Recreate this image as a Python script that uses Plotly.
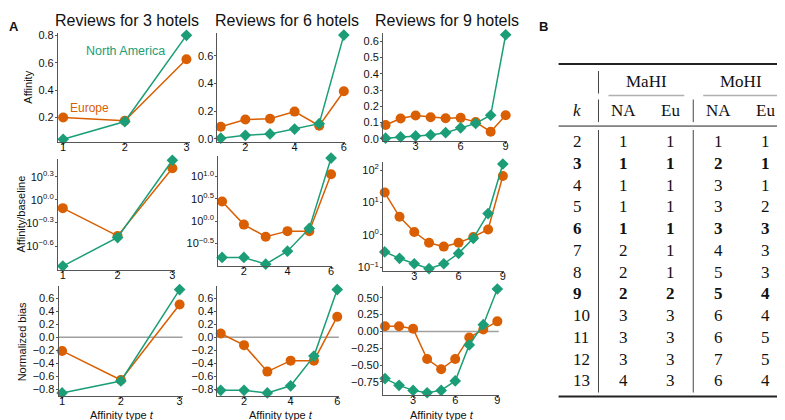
import numpy as np
import plotly.graph_objects as go

W, H = 785, 420
GREEN = '#1b9e77'
ORANGE = '#d95f02'
FONT = 'Liberation Sans'
SERIF = 'Liberation Serif'
AXC = '#555555'

# ---------------- data ----------------
t3 = [1, 2, 3]
t6 = [1, 2, 3, 4, 5, 6]
t9 = [1, 2, 3, 4, 5, 6, 7, 8, 9]

aff3_na = [0.04, 0.17, 0.80]
aff3_eu = [0.20, 0.176, 0.625]
aff6_na = [0.005, 0.026, 0.036, 0.071, 0.11, 0.75]
aff6_eu = [0.088, 0.14, 0.145, 0.197, 0.095, 0.344]
aff9_na = [0.004, 0.012, 0.018, 0.024, 0.038, 0.068, 0.095, 0.145, 0.64]
aff9_eu = [0.085, 0.125, 0.143, 0.133, 0.127, 0.129, 0.103, 0.044, 0.145]

rat3_na = [0.138, 0.324, 3.27]
rat3_eu = [0.78, 0.34, 2.57]
rat6_na = [0.155, 0.155, 0.11, 0.214, 0.69, 25.7]
rat6_eu = [2.75, 0.84, 0.45, 0.60, 0.60, 11.2]
rat9_na = [0.30, 0.19, 0.129, 0.091, 0.129, 0.27, 0.79, 4.57, 155.0]
rat9_eu = [20.4, 3.63, 1.23, 0.575, 0.437, 0.575, 0.87, 1.48, 66.0]

bias3_na = [-0.86, -0.675, 0.74]
bias3_eu = [-0.21, -0.66, 0.51]
bias6_na = [-0.82, -0.82, -0.86, -0.75, -0.29, 0.74]
bias6_eu = [0.06, -0.12, -0.53, -0.36, -0.36, 0.32]
bias9_na = [-0.70, -0.80, -0.875, -0.91, -0.875, -0.735, -0.20, 0.10, 0.63]
bias9_eu = [0.078, 0.078, 0.04, -0.41, -0.56, -0.41, -0.09, 0.03, 0.15]

baseline_ratio = 1.0
baseline_bias = 0.0

col_titles = ['Reviews for 3 hotels', 'Reviews for 6 hotels', 'Reviews for 9 hotels']
row_titles = ['Affinity', 'Affinity/baseline', 'Normalized bias']
x_title = 'Affinity type <i>t</i>'

xtick_vals = [[1, 2, 3], [2, 4, 6], [3, 6, 9]]

ytick_r1 = [[0.2, 0.4, 0.6, 0.8], [0.0, 0.2, 0.4, 0.6], [0.0, 0.1, 0.2, 0.3, 0.4, 0.5, 0.6]]
ytick_r2_exp = [[-0.6, -0.3, 0.0, 0.3], [-0.5, 0.0, 0.5, 1.0], [-1, 0, 1, 2]]
ytick_r2_txt = [['10<sup>−0.6</sup>', '10<sup>−0.3</sup>', '10<sup>0.0</sup>', '10<sup>0.3</sup>'],
                ['10<sup>−0.5</sup>', '10<sup>0.0</sup>', '10<sup>0.5</sup>', '10<sup>1.0</sup>'],
                ['10<sup>−1</sup>', '10<sup>0</sup>', '10<sup>1</sup>', '10<sup>2</sup>']]
ytick_r3 = [[-0.8, -0.6, -0.4, -0.2, 0.0, 0.2, 0.4, 0.6],
            [-0.8, -0.6, -0.4, -0.2, 0.0, 0.2, 0.4, 0.6],
            [-0.75, -0.5, -0.25, 0.0, 0.25, 0.5]]

# table
k_vals = [2, 3, 4, 5, 6, 7, 8, 9, 10, 11, 12, 13]
mahi_na = [1, 1, 1, 1, 1, 2, 2, 2, 3, 3, 3, 4]
mahi_eu = [1, 1, 1, 1, 1, 1, 1, 2, 3, 3, 3, 3]
mohi_na = [1, 2, 3, 3, 3, 4, 5, 5, 6, 6, 7, 6]
mohi_eu = [1, 1, 1, 2, 3, 3, 3, 4, 4, 5, 5, 4]
bold_k = [3, 6, 9]

# ---------------- layout geometry (pixels) ----------------
geom = {
    (0, 0): ([50, 182], [22, 133], [0.914, 3.05], [0.022, 0.82]),
    (0, 1): ([210, 338.3], [22, 133], [0.866, 6.065], [-0.021, 0.768]),
    (0, 2): ([376, 500], [22, 132], [0.83, 9.07], [-0.012, 0.653]),
    (1, 0): ([50, 167], [150, 263.3], [0.91, 3.04], [-0.91, 0.537]),
    (1, 1): ([210.7, 325], [147.3, 259.3], [0.82, 6.05], [-1.0, 1.46]),
    (1, 2): ([376, 497], [153.3, 264], [0.885, 9.06], [-1.1, 2.26]),
    (2, 0): ([50.7, 175], [280, 391.7], [0.94, 3.05], [-0.91, 0.79]),
    (2, 1): ([210, 331.7], [280, 391.7], [0.86, 6.07], [-0.91, 0.79]),
    (2, 2): ([376, 492], [280, 390], [0.86, 9.1], [-0.936, 0.67]),
}

def fx(px):
    return px / W

def fy(px):
    return 1 - px / H

series = {
    (0, 0): (t3, aff3_na, aff3_eu), (0, 1): (t6, aff6_na, aff6_eu), (0, 2): (t9, aff9_na, aff9_eu),
    (1, 0): (t3, rat3_na, rat3_eu), (1, 1): (t6, rat6_na, rat6_eu), (1, 2): (t9, rat9_na, rat9_eu),
    (2, 0): (t3, bias3_na, bias3_eu), (2, 1): (t6, bias6_na, bias6_eu), (2, 2): (t9, bias9_na, bias9_eu),
}

fig = go.Figure()
layout = dict(width=W, height=H, margin=dict(l=0, r=0, t=0, b=0),
              paper_bgcolor='white', plot_bgcolor='white', showlegend=False,
              font=dict(family=FONT, size=11, color='#111'))
shapes = []
annotations = []

for r in range(3):
    for c in range(3):
        i = r * 3 + c + 1
        xd, yd, xr, yr = geom[(r, c)]
        xa = 'xaxis' if i == 1 else f'xaxis{i}'
        ya = 'yaxis' if i == 1 else f'yaxis{i}'
        xref = 'x' if i == 1 else f'x{i}'
        yref = 'y' if i == 1 else f'y{i}'
        common = dict(showgrid=False, zeroline=False, showline=True, linecolor=AXC, linewidth=1,
                      ticks='outside', ticklen=2, tickcolor=AXC, tickfont=dict(size=11, color='#111'))
        layout[xa] = dict(domain=[fx(xd[0]), fx(xd[1])], range=xr, anchor=yref,
                          tickvals=xtick_vals[c], ticklabelstandoff=-7, **common)
        ystand = -1
        if r == 1:
            layout[ya] = dict(domain=[fy(yd[1]), fy(yd[0])], type='log', range=yr, anchor=xref,
                              tickvals=[10 ** e for e in ytick_r2_exp[c]], ticktext=ytick_r2_txt[c],
                              ticklabelstandoff=ystand, **common)
            base = np.log10(baseline_ratio)
        elif r == 0:
            layout[ya] = dict(domain=[fy(yd[1]), fy(yd[0])], range=yr, anchor=xref,
                              tickvals=ytick_r1[c], tickformat='.1f', ticklabelstandoff=ystand, **common)
            base = None
        else:
            fmt = '.2f' if c == 2 else '.1f'
            layout[ya] = dict(domain=[fy(yd[1]), fy(yd[0])], range=yr, anchor=xref,
                              tickvals=ytick_r3[c], tickformat=fmt, ticklabelstandoff=ystand, **common)
            base = baseline_bias
        if base is not None:
            shapes.append(dict(type='line', xref=f'{xref} domain', yref=yref, x0=0, x1=1,
                               y0=base, y1=base, line=dict(color='#a0a0a0', width=1.5), layer='below'))
        t, na, eu = series[(r, c)]
        fig.add_trace(go.Scatter(x=t, y=eu, mode='lines+markers', xaxis=xref, yaxis=yref, cliponaxis=False,
                                 line=dict(color=ORANGE, width=1.5),
                                 marker=dict(symbol='circle', size=10, color=ORANGE)))
        fig.add_trace(go.Scatter(x=t, y=na, mode='lines+markers', xaxis=xref, yaxis=yref, cliponaxis=False,
                                 line=dict(color=GREEN, width=1.5),
                                 marker=dict(symbol='diamond', size=9, color=GREEN)))

def ann(text, x, y, size=11, color='#111', angle=0, family=FONT, anchor='center'):
    annotations.append(dict(text=text, x=fx(x), y=fy(y), xref='paper', yref='paper', showarrow=False,
                            xanchor=anchor, yanchor='middle', textangle=angle,
                            font=dict(family=family, size=size, color=color)))

for c, cx in enumerate([119, 280, 440]):
    ann(col_titles[c], cx, 10, size=16)
for cx in [114, 274, 435]:
    ann(x_title, cx, 411)
for (cx, cy), txt in zip([(20, 77), (13, 206), (14, 336)], row_titles):
    ann(txt, cx, cy, angle=-90)
ann('North America', 117.5, 41, size=12.5, color=GREEN)
ann('Europe', 81.5, 99, size=12, color=ORANGE)
ann('<b>A</b>', 6, 16, size=13)
ann('<b>B</b>', 537, 16, size=13)

# ---------------- table ----------------
def hline(x0, x1, y, w, color='#222'):
    shapes.append(dict(type='line', xref='paper', yref='paper', x0=fx(x0), x1=fx(x1), y0=fy(y), y1=fy(y),
                       line=dict(color=color, width=w)))

def vline(x, y0, y1, color='#444'):
    shapes.append(dict(type='line', xref='paper', yref='paper', x0=fx(x), x1=fx(x), y0=fy(y0), y1=fy(y1),
                       line=dict(color=color, width=1)))

hline(552, 782, 54, 2)
hline(602, 678, 86, 1.5, '#b0b0b0')
hline(697, 772, 86, 1.5, '#b0b0b0')
hline(552, 782, 117, 1)
hline(552, 782, 392, 2)
vline(592, 61, 84)
vline(592, 90, 113)
vline(592, 121, 388)
vline(687, 90, 113)
vline(687, 121, 388)

def ttext(txt, x, y, anchor='center'):
    ann(txt, x, y, size=17, family=SERIF, anchor=anchor)

ttext('MaHI', 640, 72)
ttext('MoHI', 735, 72)
ttext('<i>k</i>', 564, 101, 'left')
for txt, x in zip(['NA', 'Eu', 'NA', 'Eu'], [617, 664, 712, 759]):
    ttext(txt, x, 101)

row_y0, row_dy = 133, 22.1
for j, k in enumerate(k_vals):
    y = row_y0 + j * row_dy
    b = (lambda s: f'<b>{s}</b>') if k in bold_k else (lambda s: str(s))
    ttext(b(k), 564, y, 'left')
    for val, x in zip([mahi_na[j], mahi_eu[j], mohi_na[j], mohi_eu[j]], [617, 664, 712, 759]):
        ttext(b(val), x, y)

layout['shapes'] = shapes
layout['annotations'] = annotations
fig.update_layout(**layout)
fig.write_html('out.html', config={'displayModeBar': False})
